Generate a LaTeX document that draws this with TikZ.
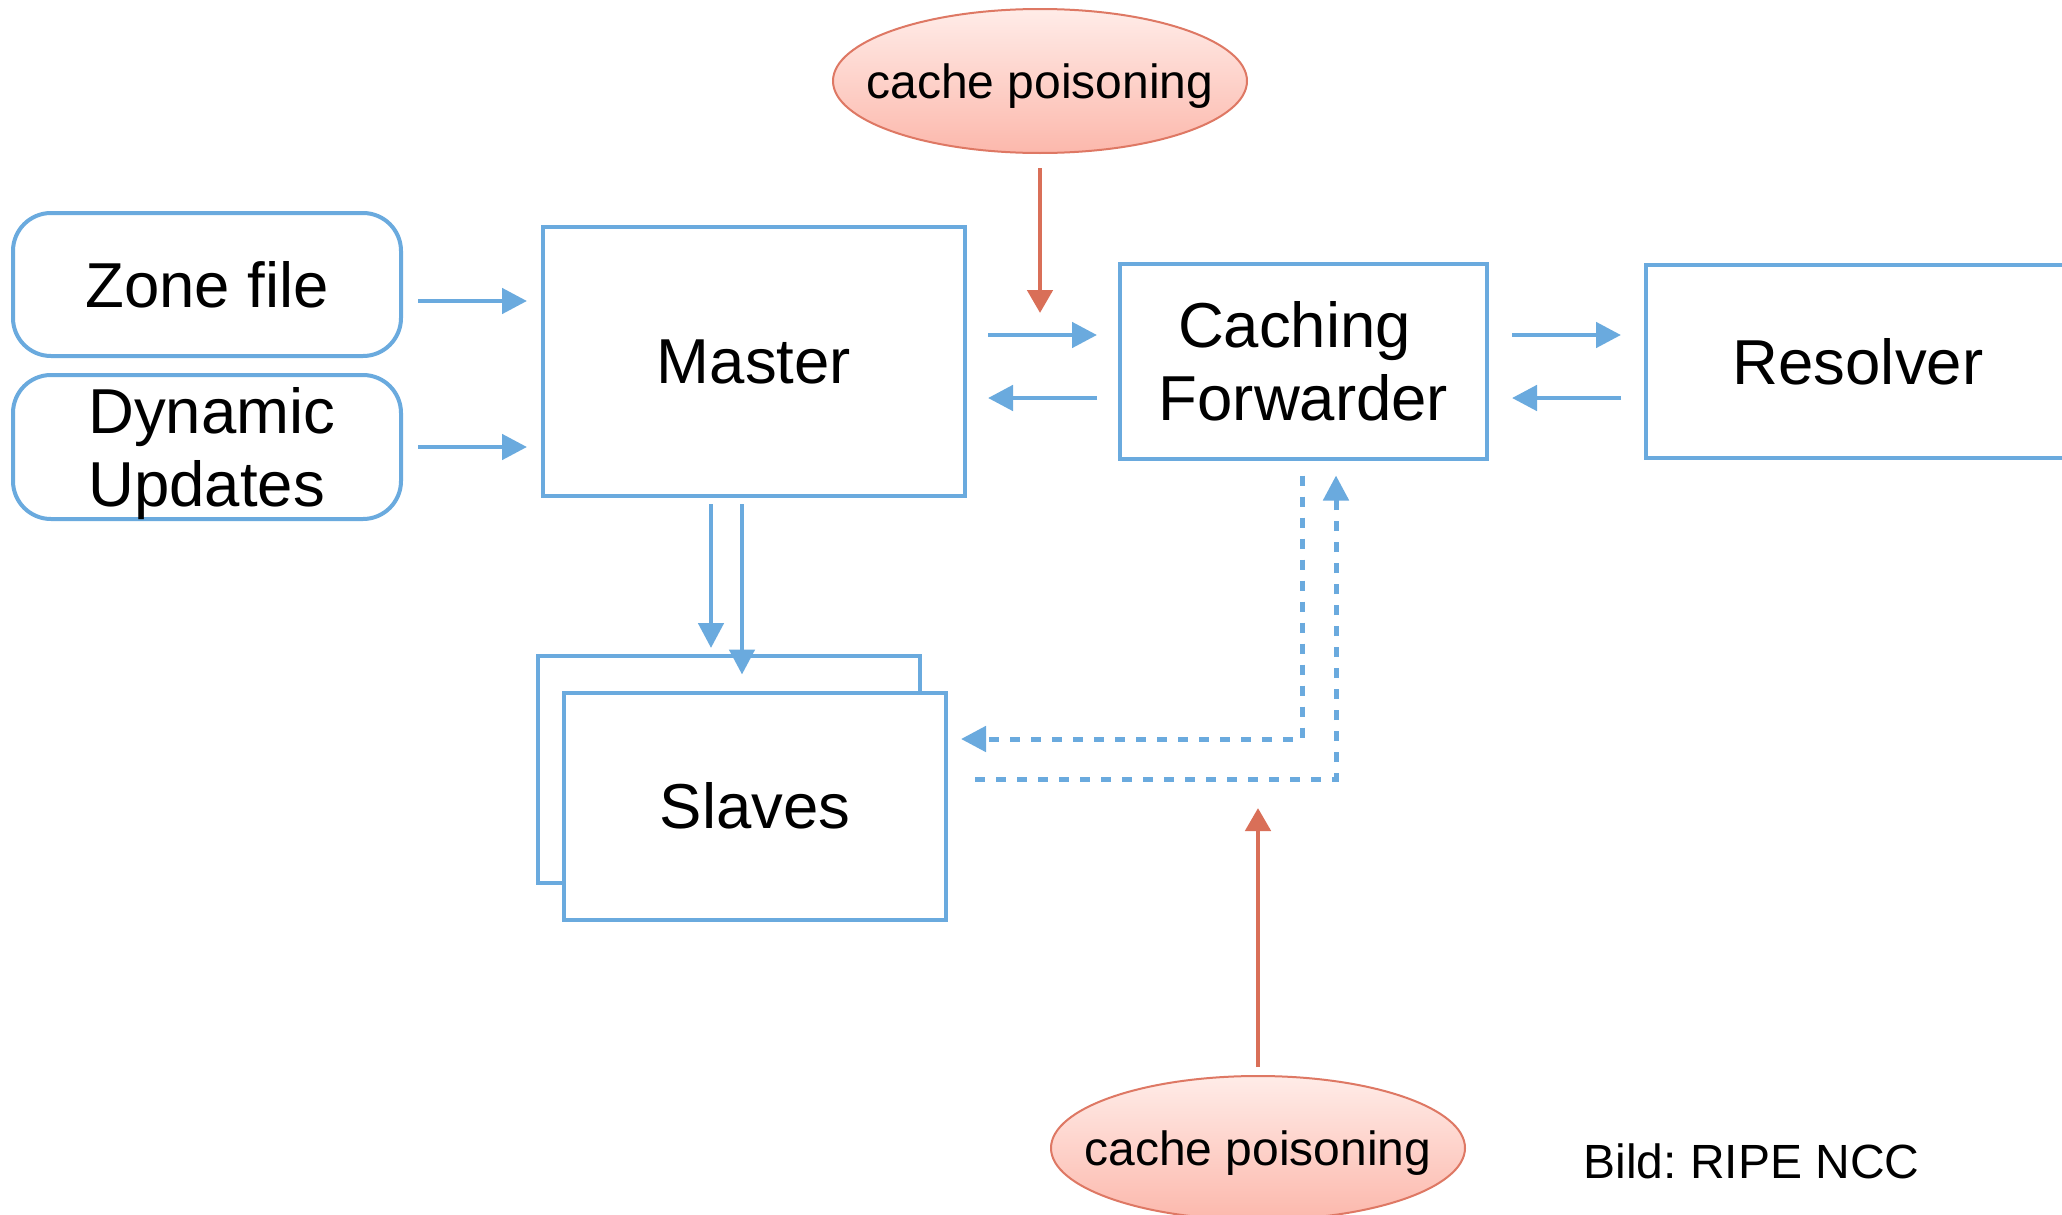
\documentclass[tikz,border=0pt]{standalone}
\usepackage{fontspec}
\setmainfont{Liberation Sans}
\usetikzlibrary{arrows.meta,shapes.geometric,calc}
\definecolor{boxblue}{RGB}{106,170,222}
\definecolor{redarr}{RGB}{217,111,88}
\definecolor{pinktop}{RGB}{255,236,232}
\definecolor{pinkbot}{RGB}{252,184,172}
\definecolor{pinkline}{RGB}{222,120,100}
\newcommand\bigfnt{\fontsize{31.75}{36.5}\selectfont}
\newcommand\smallfnt{\fontsize{24}{28}\selectfont\frenchspacing}
\begin{document}
\begin{tikzpicture}[x=0.5pt,y=-0.5pt,
  box/.style={draw=boxblue,line width=2pt,fill=white,inner sep=0pt,font=\bigfnt},
  rbox/.style={box,rounded corners=19pt},
  poison/.style={ellipse,draw=pinkline,line width=1pt,top color=pinktop,bottom color=pinkbot,
    minimum width=207pt,minimum height=72pt,inner xsep=-14pt,inner ysep=0pt,font=\smallfnt,text depth=0pt},
  arr/.style={draw=boxblue,line width=2.4pt,-{Triangle[length=12.5pt,width=12.5pt]}},
  darr/.style={arr,line width=2.5pt,dash pattern=on 5pt off 5.5pt},
  rarr/.style={draw=redarr,line width=2.4pt,-{Triangle[length=11.5pt,width=12.5pt]}}]
\useasboundingbox (0,0) rectangle (2062,1215);
\fill[white] (0,0) rectangle (2062,1215);

% nodes
\node[rbox,minimum width=194pt,minimum height=71.5pt] (zone) at (207,284.5) {Zone file};
\node[rbox,minimum width=194pt,minimum height=72pt] (dyn) at (207,447) {};
\node[anchor=west,inner sep=0pt,font=\bigfnt,align=left,text depth=0pt] (dyntext) at (88,447) {Dynamic\\Updates};
\node[box,minimum width=211pt,minimum height=134.5pt] (master) at (754,361.5) {Master};
\node[box,minimum width=183.5pt,minimum height=97.5pt,align=center,text depth=0pt] (cf) at (1303.5,361) {Caching\kern9pt\\Forwarder};
\node[box,minimum width=212pt,minimum height=96.5pt] (res) at (1858,361.5) {Resolver};
\node[box,minimum width=191pt,minimum height=113.5pt] (back) at (729,769.5) {};
\node[box,minimum width=191pt,minimum height=113.5pt] (front) at (755,806) {Slaves};
\node[poison] (cp1) at (1040,81) {cache poisoning};
\node[poison] (cp2) at (1258,1148) {cache poisoning};
\node[anchor=base west,inner sep=0pt,font=\smallfnt] (credit) at (1583,1178) {Bild: RIPE NCC};

\coordinate (hit1) at (1040,313);
\coordinate (hit2) at (1258,808);

% connectors
\draw[arr] ($(zone.east)+(15,16.5)$) -- ($(master.west|-zone.east)+(-14,16.5)$);
\draw[arr] ($(dyn.east)+(15,0)$) -- ($(master.west|-dyn.east)+(-14,0)$);
\draw[arr] ($(master.east)+(21,-26.5)$) -- ($(cf.west|-master.east)+(-21,-26.5)$);
\draw[arr] ($(cf.west)+(-21,37)$) -- ($(master.east|-cf.west)+(21,37)$);
\draw[arr] ($(cf.east)+(23,-26)$) -- ($(res.west|-cf.east)+(-23,-26)$);
\draw[arr] ($(res.west)+(-23,36.5)$) -- ($(cf.east|-res.west)+(23,36.5)$);
\draw[arr] ($(master.south)+(-43,6)$) -- ($(back.north -| master.south)+(-43,-6)$);
\draw[arr] ($(master.south)+(-12,6)$) -- ($(front.north -| master.south)+(-12,-16)$);
\draw[darr] ($(cf.south)+(-1.5,15)$) |- ($(front.east)+(13,-67)$);
\draw[darr] ($(front.east)+(27,-27)$) -| ($(cf.south)+(32.5,15)$);
\draw[rarr] ($(cp1.south)+(0,14)$) -- (hit1);
\draw[rarr] ($(cp2.north)+(0,-8)$) -- (hit2);
\end{tikzpicture}
\end{document}
